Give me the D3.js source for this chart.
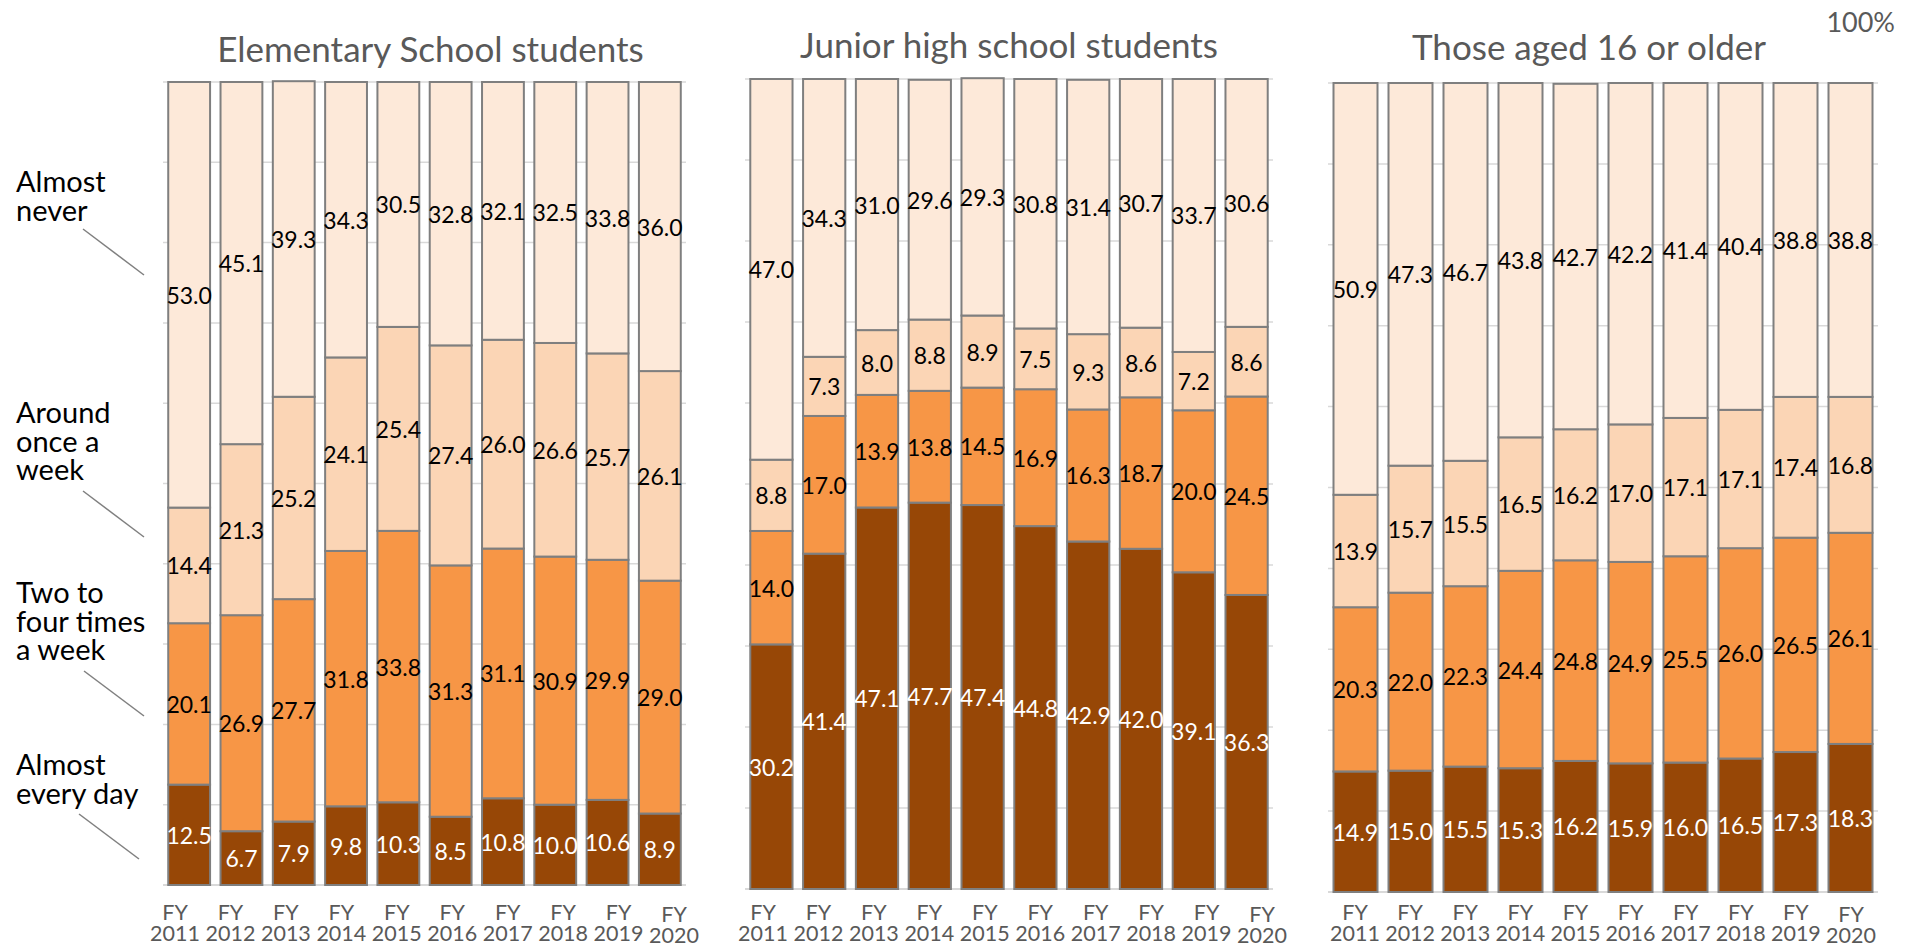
<!DOCTYPE html>
<html><head><meta charset="utf-8">
<script src="https://cdn.jsdelivr.net/npm/d3@7"></script>
<style>body{margin:0;background:#fff;overflow:hidden}</style>
</head><body><svg id="c" width="1915" height="948"></svg>
<script>
// ---- data ----
const years = ["2011","2012","2013","2014","2015","2016","2017","2018","2019","2020"];
const categories = ["Almost every day","Two to four times a week","Around once a week","Almost never"];
const groups = ["Elementary School students","Junior high school students","Those aged 16 or older"];

const elemEveryDay   = [12.5, 6.7, 7.9, 9.8,10.3, 8.5,10.8,10.0,10.6, 8.9];
const elemTwoToFour  = [20.1,26.9,27.7,31.8,33.8,31.3,31.1,30.9,29.9,29.0];
const elemOnceWeek   = [14.4,21.3,25.2,24.1,25.4,27.4,26.0,26.6,25.7,26.1];
const elemNever      = [53.0,45.1,39.3,34.3,30.5,32.8,32.1,32.5,33.8,36.0];

const juniorEveryDay  = [30.2,41.4,47.1,47.7,47.4,44.8,42.9,42.0,39.1,36.3];
const juniorTwoToFour = [14.0,17.0,13.9,13.8,14.5,16.9,16.3,18.7,20.0,24.5];
const juniorOnceWeek  = [ 8.8, 7.3, 8.0, 8.8, 8.9, 7.5, 9.3, 8.6, 7.2, 8.6];
const juniorNever     = [47.0,34.3,31.0,29.6,29.3,30.8,31.4,30.7,33.7,30.6];

const olderEveryDay  = [14.9,15.0,15.5,15.3,16.2,15.9,16.0,16.5,17.3,18.3];
const olderTwoToFour = [20.3,22.0,22.3,24.4,24.8,24.9,25.5,26.0,26.5,26.1];
const olderOnceWeek  = [13.9,15.7,15.5,16.5,16.2,17.0,17.1,17.1,17.4,16.8];
const olderNever     = [50.9,47.3,46.7,43.8,42.7,42.2,41.4,40.4,38.8,38.8];

const yTicks = [0,10,20,30,40,50,60,70,80,90,100];
const topLabel = "100%";

// ---- tables built from arrays ----
const seriesByGroup = [
  [elemEveryDay, elemTwoToFour, elemOnceWeek, elemNever],
  [juniorEveryDay, juniorTwoToFour, juniorOnceWeek, juniorNever],
  [olderEveryDay, olderTwoToFour, olderOnceWeek, olderNever]
];

// ---- layout / style ----
const panels = [
  {x0:163, x1:686, top:82, bottom:885, lab0:175, lab1:674, titleY:62, titleDx:6},
  {x0:745, x1:1273, top:79, bottom:889, lab0:763, lab1:1262, titleY:58, titleDx:0},
  {x0:1328, x1:1878, top:83, bottom:892, lab0:1355, lab1:1851, titleY:60, titleDx:-14}
];
const colors = ["#974706","#F79646","#FBD5B5","#FDE9D9"];
const labelColors = ["#ffffff","#000000","#000000","#000000"];
const FONT = "Lato, 'Open Sans', sans-serif";
const gray = "#595959";

const svg = d3.select("#c");

panels.forEach((p, gi) => {
  const rows = years.map((yr, i) => {
    const o = {year: yr};
    categories.forEach((c, k) => o[c] = seriesByGroup[gi][k][i]);
    return o;
  });
  const stack = d3.stack().keys(categories)(rows);
  const x = d3.scaleBand().domain(years).range([p.x0, p.x1]).paddingInner(0.2).paddingOuter(0.1);
  const y = d3.scaleLinear().domain([0,100]).range([p.bottom, p.top]);
  const xl = d3.scalePoint().domain(years).range([p.lab0, p.lab1]);

  const g = svg.append("g");
  // gridlines
  g.append("g").selectAll("line").data(yTicks).join("line")
    .attr("x1", p.x0).attr("x2", p.x1)
    .attr("y1", d => y(d)).attr("y2", d => y(d))
    .attr("stroke", "#D9D9D9").attr("stroke-width", d => d === 0 ? 2 : 1.5);

  // bars
  const layer = g.selectAll("g.layer").data(stack).join("g").attr("class","layer")
    .attr("fill", (d,i) => colors[i]);
  layer.selectAll("rect").data(d => d).join("rect")
    .attr("x", d => x(d.data.year))
    .attr("width", x.bandwidth())
    .attr("y", d => y(d[1]))
    .attr("height", d => y(d[0]) - y(d[1]))
    .attr("stroke", "#7F7F7F").attr("stroke-width", 2);

  // value labels
  const lab = g.selectAll("g.vlab").data(stack).join("g").attr("class","vlab")
    .attr("fill", (d,i) => labelColors[i]);
  lab.selectAll("text").data(d => d).join("text")
    .attr("x", d => x(d.data.year) + x.bandwidth()/2)
    .attr("y", d => (y(d[0]) + y(d[1]))/2)
    .attr("text-anchor", "middle").attr("dominant-baseline", "central")
    .style("font-family", FONT).style("font-size", "23px")
    .text(d => (d[1]-d[0]).toFixed(1));

  // x labels
  const xt = g.append("g").selectAll("text").data(years).join("text")
    .attr("text-anchor", "middle")
    .attr("transform", (d,i) => `translate(${xl(d)},${i === years.length-1 ? 2 : 0})`)
    .style("font-family", FONT).style("font-size", "21.5px").attr("fill", gray);
  xt.append("tspan").attr("x", 0).attr("y", 920).text("FY");
  xt.append("tspan").attr("x", 0).attr("y", 941).text(d => d);

  // title
  g.append("text").attr("x", (p.x0 + p.x1)/2 + p.titleDx).attr("y", p.titleY)
    .attr("text-anchor", "middle").attr("fill", gray)
    .style("font-family", FONT).style("font-size", "35px")
    .text(groups[gi]);
});

// 100% label
svg.append("text").attr("x", 1895).attr("y", 32).attr("text-anchor","end")
  .attr("fill", gray).style("font-family", FONT).style("font-size","27px").text(topLabel);

// category annotations with leader lines
const annot = [
  {lines:["Almost","never"], y:192, l:[83,229,144,275]},
  {lines:["Around","once a","week"], y:423, l:[83,491,144,537]},
  {lines:["Two to","four times","a week"], y:603, l:[84,671,144,716]},
  {lines:["Almost","every day"], y:775, l:[79,814,139,859]}
];
const ann = svg.append("g");
categories.slice().reverse().forEach((c, i) => {
  const a = annot[i];
  const t = ann.append("text").attr("fill","#000").style("font-family", FONT).style("font-size","29px");
  a.lines.forEach((ln, j) => t.append("tspan").attr("x", 16).attr("y", a.y + j*28.5).text(ln));
  ann.append("line").attr("x1", a.l[0]).attr("y1", a.l[1]).attr("x2", a.l[2]).attr("y2", a.l[3])
    .attr("stroke", "#7F7F7F").attr("stroke-width", 1.5);
});
</script>
</body></html>
